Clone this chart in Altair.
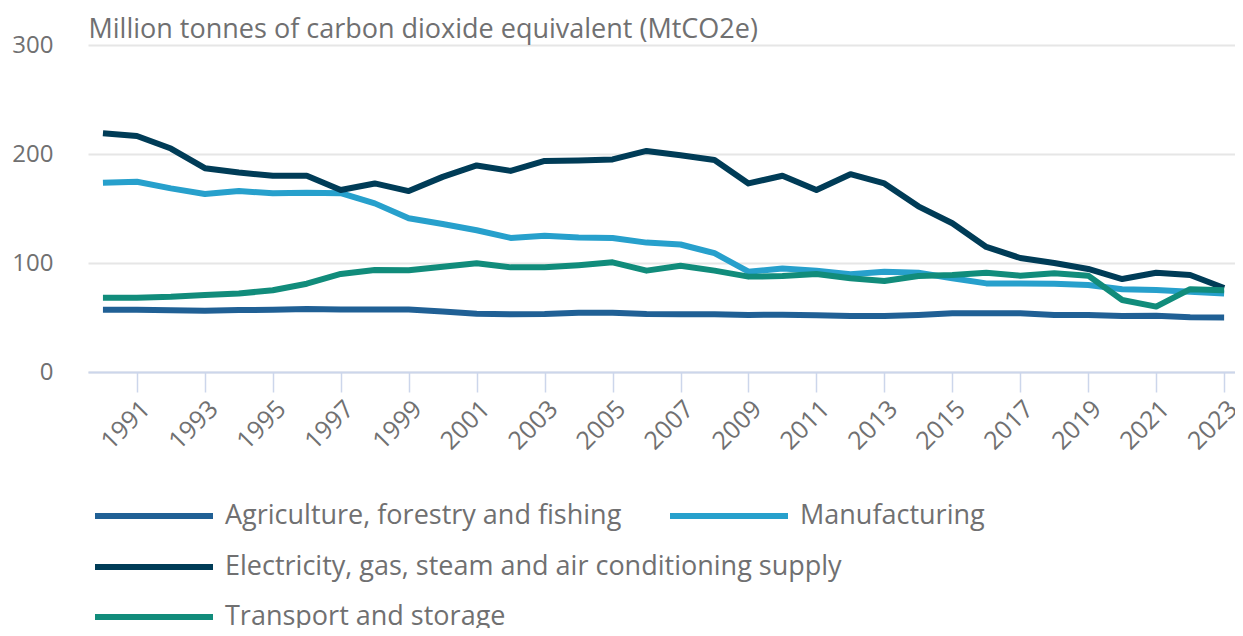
import altair as alt
import pandas as pd

years = list(range(1990, 2024))

agriculture = [57, 57, 56.7, 56.3, 56.8, 57, 57.8, 57.3, 57.3, 57.3,
               55.5, 53.5, 52.9, 53.2, 54.4, 54.4, 53.2, 52.9, 52.9, 52.3,
               52.6, 52, 51.4, 51.4, 52.3, 53.8, 53.8, 53.8, 52.3, 52.3,
               51.4, 51.7, 50.2, 50]
manufacturing = [173.7, 174.6, 168.5, 163.3, 166, 164, 164.5, 164, 154.7, 141,
                 135.8, 130, 123, 125, 123.5, 123, 118.7, 117, 109, 92,
                 95, 93, 89.6, 92, 91, 86, 81.3, 81.3, 81, 79.8,
                 76, 75.2, 73.7, 72]
electricity = [219, 216.5, 205, 187, 183, 180, 180, 167, 173, 166,
               179, 189.5, 184.5, 193.6, 194, 195, 202.8, 198.8, 194.5, 173,
               180, 167, 181.5, 173, 152, 136.5, 114.7, 104.6, 100, 94.5,
               85.3, 91, 89, 77]
transport = [68.2, 68.2, 69, 70.6, 72, 75, 81, 90, 93.6, 93.3,
             96.6, 99.8, 96, 96, 98, 100.6, 93, 97.5, 93, 87.5,
             88, 90, 86, 83.5, 88, 89, 91, 88.4, 90.5, 88.4,
             66, 60, 76, 75]

series_names = [
    "Agriculture, forestry and fishing",
    "Manufacturing",
    "Electricity, gas, steam and air conditioning supply",
    "Transport and storage",
]
series_colors = ["#206095", "#27a0cc", "#003c57", "#118c7b"]
series_values = [agriculture, manufacturing, electricity, transport]

x_tick_years = list(range(1991, 2024, 2))
y_ticks = [0, 100, 200, 300]
y_title = "Million tonnes of carbon dioxide equivalent (MtCO2e)"

rows = []
for name, vals in zip(series_names, series_values):
    for yr, v in zip(years, vals):
        rows.append({"year": yr, "value": v, "series": name})
df = pd.DataFrame(rows)

FONT = "Open Sans"
GREY = "#707071"

x_enc = alt.X(
    "year:Q",
    scale=alt.Scale(domain=[1989.56, 2023.32], nice=False, zero=False),
    axis=alt.Axis(
        values=x_tick_years, format="d", labelAngle=-45, labelAlign="right",
        labelBaseline="top", labelPadding=4, labelFontSize=25, labelFont=FONT,
        labelColor=GREY, tickColor="#ccd6eb", tickSize=20, tickWidth=1.5,
        domainColor="#ccd6eb", domainWidth=2, grid=False, title=None,
        labelOverlap=False, labelFlush=False,
    ),
)
y_enc = alt.Y(
    "value:Q",
    scale=alt.Scale(domain=[0, 300], nice=False),
    axis=alt.Axis(
        values=y_ticks, grid=True, gridColor="#e6e6e6", gridWidth=2,
        domain=False, ticks=False, labelPadding=35, labelFontSize=24,
        labelFont=FONT, labelColor=GREY, title=y_title, titleAngle=0,
        titleX=0, titleY=-8, titleAlign="left", titleBaseline="alphabetic",
        titleFontSize=27, titleFont=FONT, titleFontWeight="normal",
        titleColor=GREY,
    ),
)


def legend_at(ly):
    return alt.Legend(
        orient="none", legendX=4, legendY=ly, direction="horizontal",
        title=None, symbolType="stroke", symbolSize=13924,
        symbolStrokeWidth=6, labelFontSize=27, labelFont=FONT,
        labelColor=GREY, columnPadding=36, labelOffset=9, labelLimit=0,
    )


def layer_for(idx, ly):
    names = [series_names[i] for i in idx]
    cols = [series_colors[i] for i in idx]
    return alt.Chart(df).transform_filter(
        alt.FieldOneOfPredicate(field="series", oneOf=names)
    ).mark_line(strokeWidth=6, strokeJoin="round").encode(
        x=x_enc, y=y_enc,
        color=alt.Color("series:N", scale=alt.Scale(domain=names, range=cols),
                        legend=legend_at(ly)),
        detail="series:N",
    )


chart = alt.layer(
    layer_for([0, 1], 409),
    layer_for([2], 460),
    layer_for([3], 510),
).resolve_scale(color="independent").properties(
    width=1147, height=327,
    padding={"left": 80, "top": 37, "right": 0, "bottom": 256},
    autosize=alt.AutoSizeParams(type="none"),
    background="white",
).configure_view(stroke="transparent")

chart.save("out.html", embed_options={"renderer": "svg", "actions": False})
